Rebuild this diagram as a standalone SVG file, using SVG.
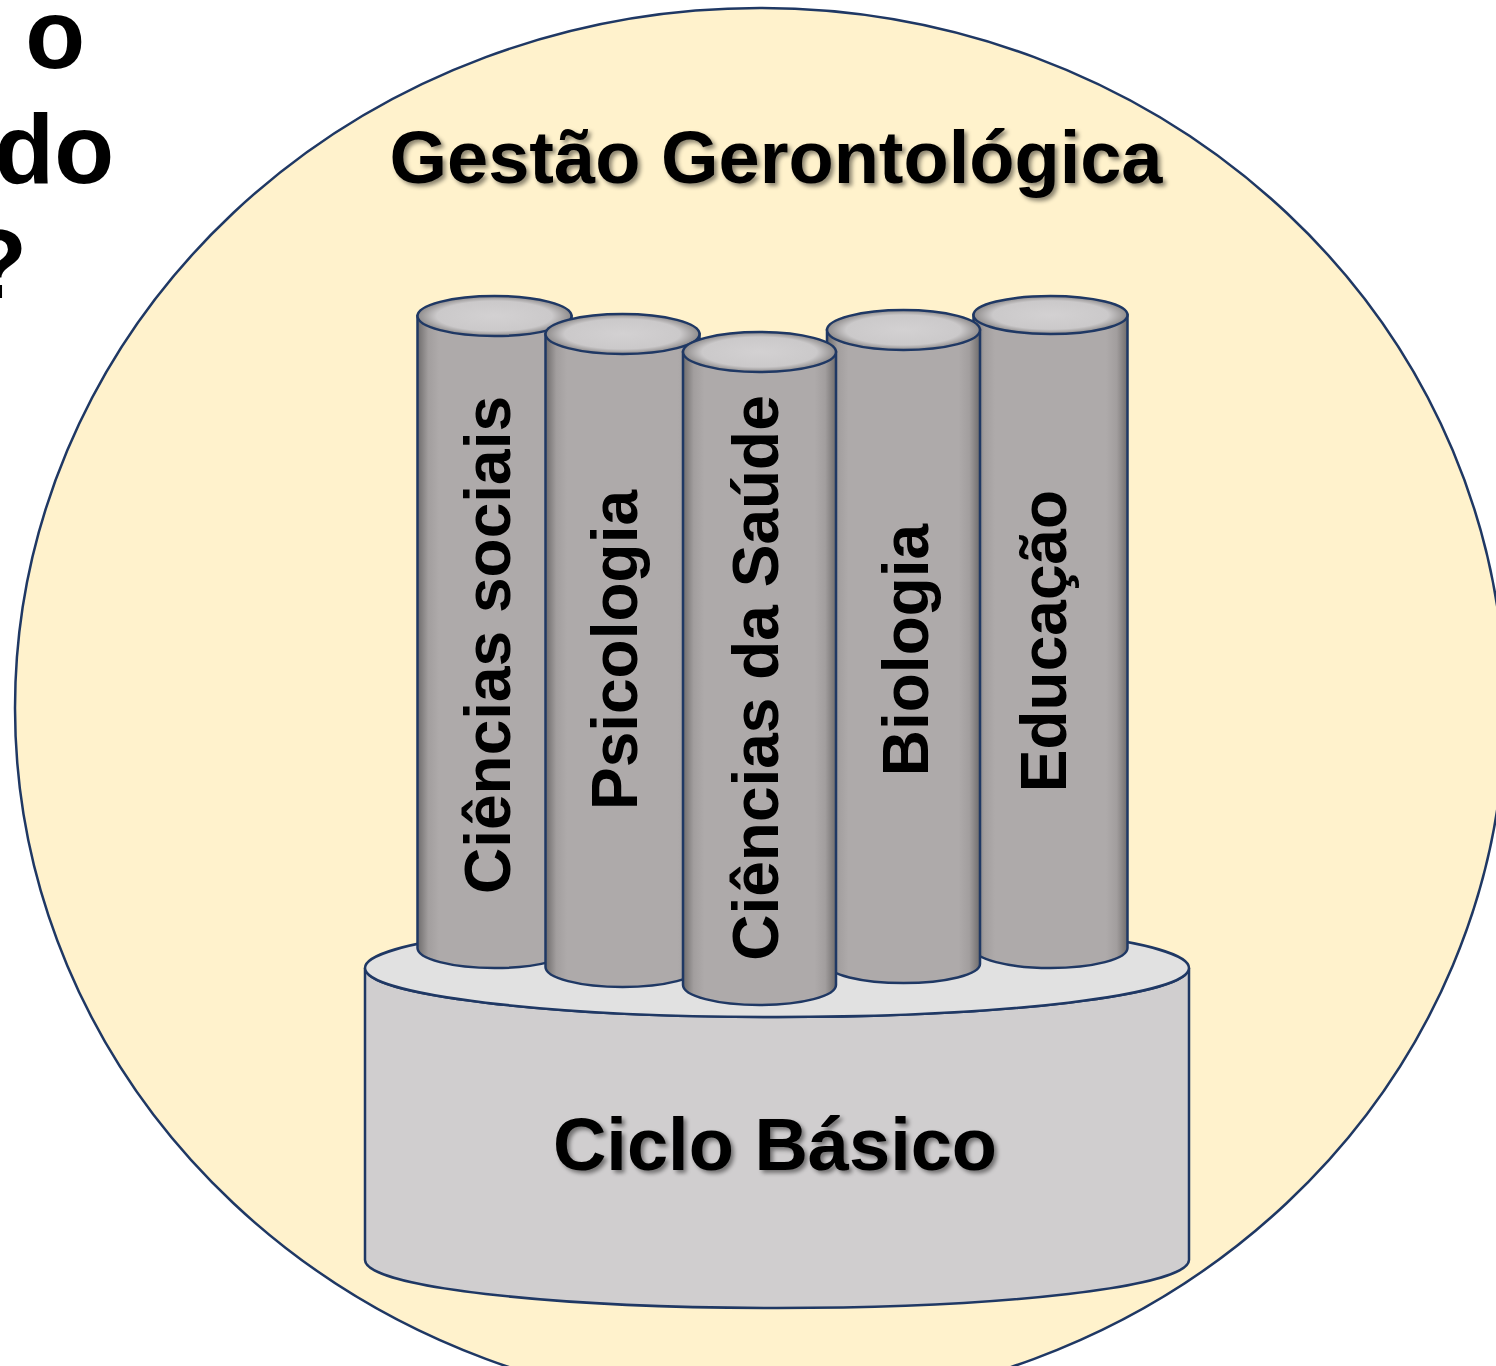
<svg xmlns="http://www.w3.org/2000/svg" width="1496" height="1366" viewBox="0 0 1496 1366">
  <style>
    .stroke { stroke: #1F3864; stroke-width: 2.5; }
    .big { font-family: "Liberation Sans", Arial, sans-serif; font-weight: bold; fill: #000; }
    .col { font-family: "Liberation Sans", Arial, sans-serif; font-weight: bold; font-size: 64px; fill: #000; text-anchor: middle; }
  </style>
  <defs>
    <linearGradient id="body" x1="0" y1="0" x2="1" y2="0">
      <stop offset="0" stop-color="#6f6c6c"/>
      <stop offset="0.07" stop-color="#a29e9e"/>
      <stop offset="0.14" stop-color="#aeaaaa"/>
      <stop offset="0.86" stop-color="#aeaaaa"/>
      <stop offset="0.93" stop-color="#a29e9e"/>
      <stop offset="1" stop-color="#6f6c6c"/>
    </linearGradient>
    <radialGradient id="top" cx="0.5" cy="0.5" r="0.5">
      <stop offset="0" stop-color="#d3d1d2"/>
      <stop offset="0.75" stop-color="#cbc9ca"/>
      <stop offset="1" stop-color="#8e8b8b"/>
    </radialGradient>
    <filter id="shadow" x="-10%" y="-20%" width="120%" height="150%">
      <feDropShadow dx="3" dy="3" stdDeviation="2" flood-color="#000" flood-opacity="0.45"/>
    </filter>
  </defs>

  <g id="left-text" class="big" font-size="98" text-anchor="end">
    <text x="85" y="68">o</text>
    <text x="114" y="183">do</text>
    <text x="27" y="298">?</text>
  </g>

  <g id="circle">
    <ellipse cx="760" cy="708" rx="745" ry="700" fill="#FFF2CC" class="stroke" stroke-width="2.5"/>
  </g>

  <g id="title">
    <text class="big" x="776" y="183" font-size="74" text-anchor="middle" filter="url(#shadow)">Gestão Gerontológica</text>
  </g>

  <g id="base">
    <path d="M365,968 L365,1260 A412,48 0 0 0 1189,1260 L1189,968 A412,49 0 0 1 365,968 Z" fill="#D0CECF" class="stroke"/>
    <ellipse cx="777" cy="968" rx="412" ry="49" fill="#E1E1E1" class="stroke"/>
    <text class="big" x="775" y="1170" font-size="74" text-anchor="middle" filter="url(#shadow)">Ciclo Básico</text>
  </g>

  <g id="pillar-sociais">
    <path d="M417.5,316 L417.5,948 A77,20 0 0 0 571.5,948 L571.5,316 Z" fill="url(#body)" class="stroke"/>
    <ellipse cx="494.5" cy="316" rx="77" ry="20" fill="url(#top)" class="stroke"/>
    <text class="col" transform="translate(510,645) rotate(-90)">Ciências sociais</text>
  </g>

  <g id="pillar-educacao">
    <path d="M973.5,315 L973.5,948 A77,20 0 0 0 1127.5,948 L1127.5,315 Z" fill="url(#body)" class="stroke"/>
    <ellipse cx="1050.5" cy="315" rx="77" ry="19" fill="url(#top)" class="stroke"/>
    <text class="col" transform="translate(1066,641) rotate(-90)">Educação</text>
  </g>

  <g id="pillar-psicologia">
    <path d="M545.5,334 L545.5,967 A77,20 0 0 0 699.5,967 L699.5,334 Z" fill="url(#body)" class="stroke"/>
    <ellipse cx="622.5" cy="334" rx="77" ry="20" fill="url(#top)" class="stroke"/>
    <text class="col" transform="translate(637,650) rotate(-90)">Psicologia</text>
  </g>

  <g id="pillar-biologia">
    <path d="M827,330 L827,964 A76.5,19 0 0 0 980,964 L980,330 Z" fill="url(#body)" class="stroke"/>
    <ellipse cx="903.5" cy="330" rx="76.5" ry="20" fill="url(#top)" class="stroke"/>
    <text class="col" transform="translate(928,650) rotate(-90)">Biologia</text>
  </g>

  <g id="pillar-saude">
    <path d="M683,352 L683,985 A76.5,20 0 0 0 836,985 L836,352 Z" fill="url(#body)" class="stroke"/>
    <ellipse cx="759.5" cy="352" rx="76.5" ry="20" fill="url(#top)" class="stroke"/>
    <text class="col" transform="translate(778,678) rotate(-90)">Ciências da Saúde</text>
  </g>

  <g id="connectors"></g>
</svg>
